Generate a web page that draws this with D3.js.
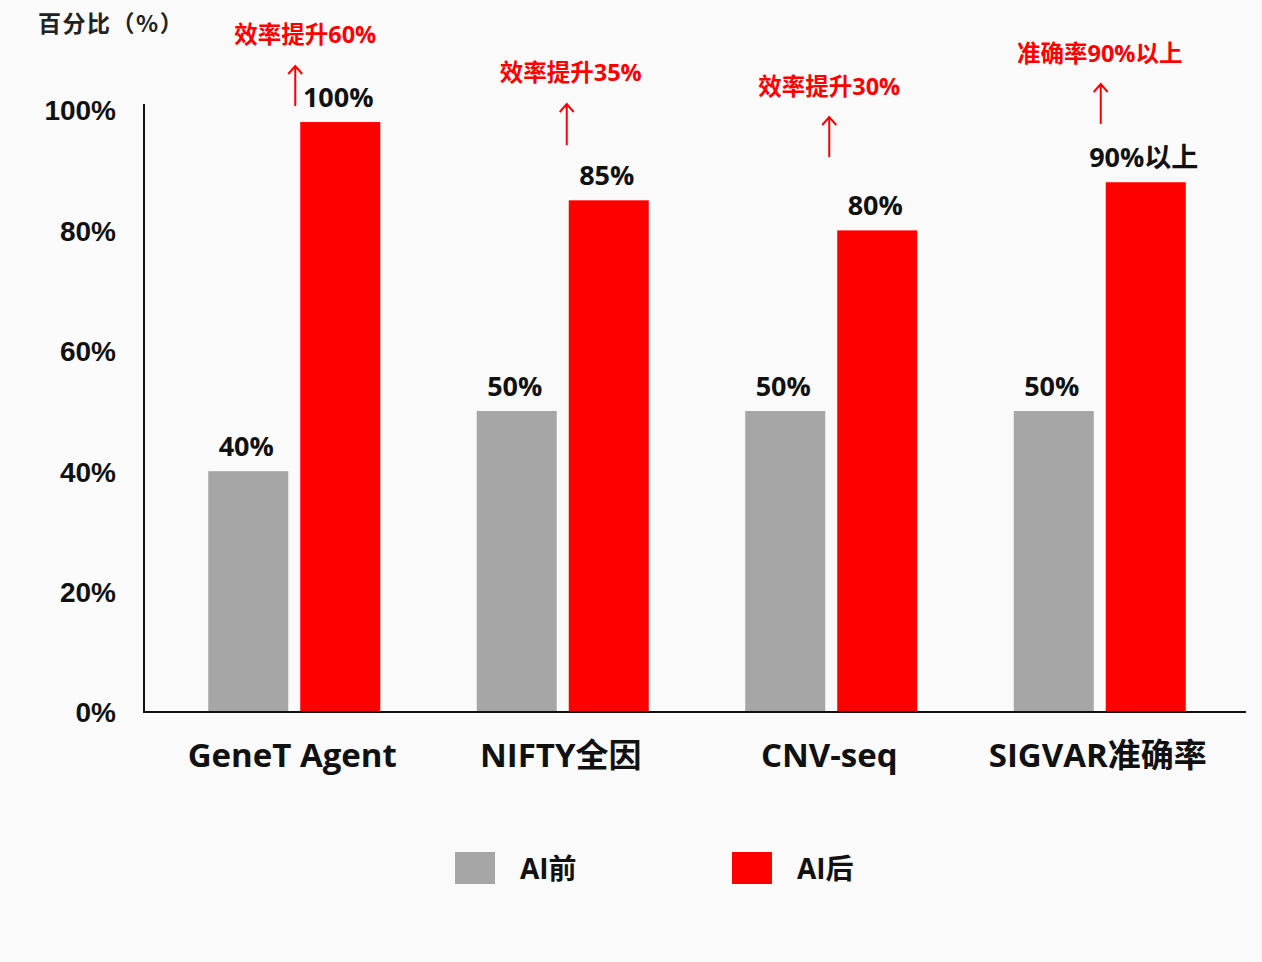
<!DOCTYPE html>
<html lang="zh">
<head>
  <meta charset="UTF-8">
  <title>AI前后对比</title>
  <script src="https://d3js.org/d3.v7.min.js"></script>
  <style>
    body { margin: 0; background: #fafafa; }
    svg { display: block; font-family: "Open Sans", "Noto Sans CJK SC", sans-serif; }
    .tick-label { font-size: 28px; font-weight: 700; fill: #111; }
    .val { font-size: 27px; font-weight: 700; fill: #111; }
    .cat { font-size: 33px; font-weight: 700; fill: #111; }
    .note { font-size: 23.5px; font-weight: 700; fill: #ff0000; }
  </style>
</head>
<body>
  <svg width="1262" height="962"></svg>
  <script>
    // data
    const categories = ["GeneT Agent", "NIFTY全因", "CNV-seq", "SIGVAR准确率"];
    const seriesNames = ["AI前", "AI后"];
    const before = [40, 50, 50, 50];
    const after = [98, 85, 80, 88];          // drawn heights
    const beforeLabels = ["40%", "50%", "50%", "50%"];
    const afterLabels = ["100%", "85%", "80%", "90%以上"];
    const notes = ["效率提升60%", "效率提升35%", "效率提升30%", "准确率90%以上"];
    const yTicks = [0, 20, 40, 60, 80, 100];

    // annotation layout (pixel offsets: text y, arrow top, arrow bottom, arrow dx / text dx from group center)
    const noteLayout = [
      { ty: 35, a0: 66, a1: 106, ax: 1, tx: 11 },
      { ty: 73, a0: 104, a1: 145, ax: 4, tx: 8 },
      { ty: 87, a0: 117, a1: 157, ax: -2, tx: -2 },
      { ty: 54, a0: 84, a1: 124, ax: 1, tx: 0 }
    ];

    const svg = d3.select("svg");
    const colors = ["#a6a6a6", "#ff0000"];

    const x = d3.scaleBand().domain(categories).range([160, 1234]);
    const y = d3.scaleLinear().domain([0, 100]).range([712, 110]);
    const barW = 80, gap = 12;

    const rows = categories.map((c, i) => ({
      cat: c, i,
      vals: [
        { s: 0, v: before[i], label: beforeLabels[i] },
        { s: 1, v: after[i], label: afterLabels[i] }
      ]
    }));

    const center = c => x(c) + x.bandwidth() / 2;
    const barX = (c, s) => s === 0 ? center(c) - gap / 2 - barW : center(c) + gap / 2;

    // y axis
    const yAxis = svg.append("g").attr("transform", "translate(144,0)")
      .call(d3.axisLeft(y).tickValues(yTicks).tickSize(0).tickPadding(28).tickFormat(d => d + "%"));
    yAxis.select(".domain").remove();
    yAxis.selectAll("text").attr("class", "tick-label").attr("font-family", null).attr("font-size", null)
      .attr("dy", "0.35em");

    svg.append("line").attr("x1", 144).attr("x2", 144).attr("y1", 104).attr("y2", 713)
      .attr("stroke", "#111").attr("stroke-width", 2);

    svg.append("text").attr("x", 38).attr("y", 32)
      .style("font-family", "'Noto Sans CJK SC', sans-serif")
      .style("font-size", "23px").style("font-weight", 700).style("letter-spacing", "1.5px").attr("fill", "#222")
      .text("百分比（%）");

    // bars
    const g = svg.selectAll(".grp").data(rows).enter().append("g").attr("class", "grp");
    g.selectAll("rect").data(d => d.vals.map(v => ({ ...v, cat: d.cat }))).enter().append("rect")
      .attr("x", d => barX(d.cat, d.s))
      .attr("y", d => y(d.v))
      .attr("width", barW)
      .attr("height", d => y(0) - y(d.v))
      .attr("fill", d => colors[d.s]);

    g.selectAll(".val").data(d => d.vals.map(v => ({ ...v, cat: d.cat }))).enter().append("text")
      .attr("class", "val")
      .attr("text-anchor", "middle")
      .attr("x", d => barX(d.cat, d.s) + barW / 2 - 2)
      .attr("y", d => y(d.v) - 15)
      .text(d => d.label);

    // x axis
    svg.append("line").attr("x1", 143).attr("x2", 1246).attr("y1", 712).attr("y2", 712)
      .attr("stroke", "#111").attr("stroke-width", 2);
    svg.selectAll(".cat").data(categories).enter().append("text")
      .attr("class", "cat").attr("text-anchor", "middle")
      .attr("x", d => center(d) - 2).attr("y", 767)
      .text(d => d);

    // annotations
    categories.forEach((c, i) => {
      const L = noteLayout[i];
      svg.append("text").attr("class", "note").attr("text-anchor", "middle")
        .attr("x", center(c) + L.tx).attr("y", L.ty + 8).text(notes[i]);
      const ax = center(c) + L.ax;
      svg.append("path")
        .attr("d", `M${ax},${L.a1}V${L.a0}M${ax - 7},${L.a0 + 8}L${ax},${L.a0}L${ax + 7},${L.a0 + 8}`)
        .attr("fill", "none").attr("stroke", "#ff0000").attr("stroke-width", 2);
    });

    // legend
    const legX = [455, 732];
    seriesNames.forEach((n, i) => {
      svg.append("rect").attr("x", legX[i]).attr("y", 852).attr("width", 40).attr("height", 32)
        .attr("fill", colors[i]);
      svg.append("text").attr("x", legX[i] + 65).attr("y", 879)
        .style("font-size", "28px").style("font-weight", 700).attr("fill", "#111").text(n);
    });
  </script>
</body>
</html>
